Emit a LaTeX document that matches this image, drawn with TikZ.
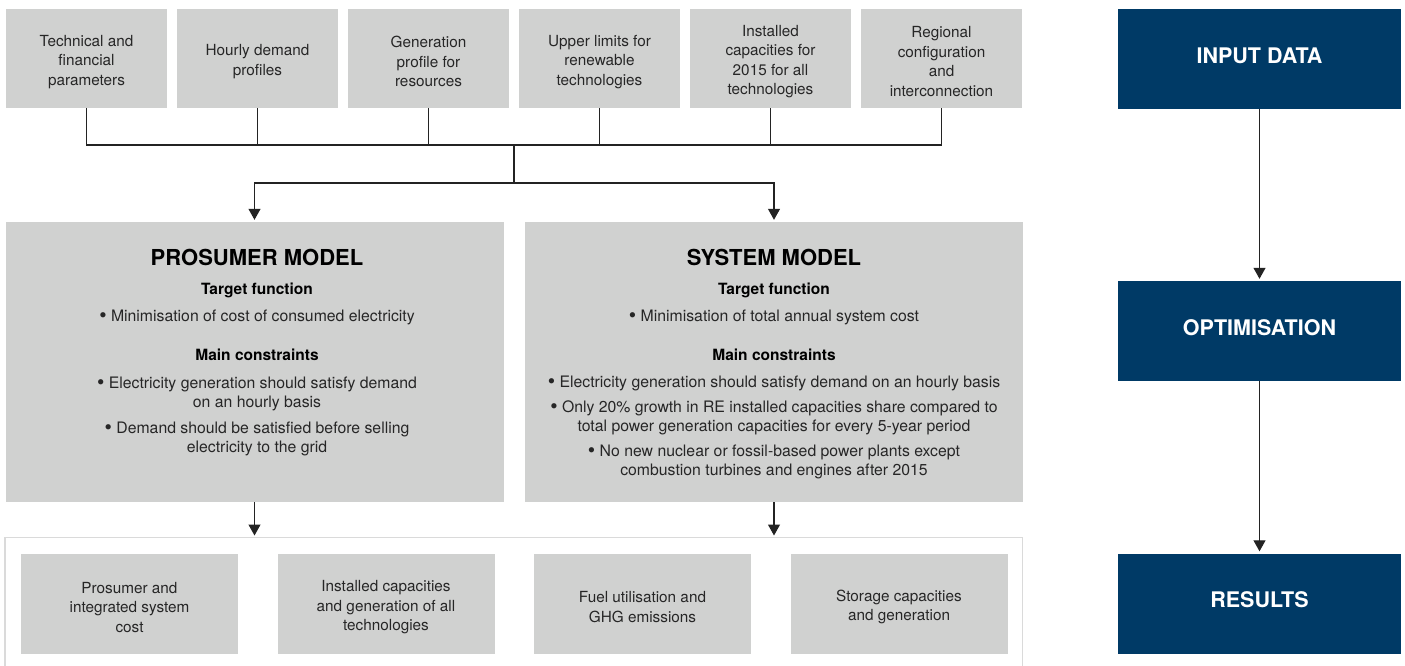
\documentclass[tikz,border=0pt]{standalone}
\usepackage{fontspec}
\setmainfont{TeX Gyre Heros}
\usetikzlibrary{arrows.meta}
\usetikzlibrary{positioning}

\definecolor{boxgrey}{RGB}{208,209,208}
\definecolor{navy}{RGB}{0,58,102}
\definecolor{txtgrey}{RGB}{38,38,38}
\definecolor{framegrey}{RGB}{218,218,218}
\definecolor{linegrey}{RGB}{35,35,35}

\newcommand{\bul}{\raisebox{-1pt}{\fontsize{21}{19}\selectfont\textbullet}}
\newcommand{\tp}{\rule{0pt}{17.5pt}}

\tikzset{
  inbox/.style={fill=boxgrey, minimum width=161, minimum height=99, inner sep=0,
    align=center, text=txtgrey, font=\fontsize{15.3}{19.5}\selectfont},
  outbox/.style={inbox, minimum width=217, minimum height=100},
  modelbox/.style={fill=boxgrey, minimum width=498, minimum height=280, inner sep=0},
  stagebox/.style={fill=navy, minimum width=283, minimum height=100, inner sep=0,
    text=white, text depth=7, font=\fontsize{21.5}{24}\bfseries\selectfont},
  mtitle/.style={anchor=base, text=black, font=\fontsize{22}{24}\bfseries\selectfont},
  mhead/.style={anchor=base, text=black, font=\fontsize{15.5}{19}\bfseries\selectfont},
  mline/.style={anchor=base, text=txtgrey, font=\fontsize{15.8}{19}\selectfont},
  wire/.style={draw=linegrey, line width=1.1pt},
  flow/.style={wire, -{Triangle[width=12pt,length=11pt]}, shorten >=2pt},
}

\begin{document}
\begin{tikzpicture}[x=1pt, y=-1pt]
      \useasboundingbox (0,0) rectangle (1405,666);

      % input data boxes
      \node[inbox] (tech) at (86.5, 58.5) {\tp Technical and\\financial\\parameters};
      \node[inbox] (demand) at (257.5, 58.5) {\tp Hourly demand\\profiles};
      \node[inbox] (genprof) at (428.5, 58.5) {\tp Generation\\profile for\\resources};
      \node[inbox] (uplim) at (599.5, 58.5) {\tp Upper limits for\\renewable\\technologies};
      \node[inbox] (instcap) at (770.5, 58.5) {\tp Installed\\capacities for\\2015 for all\\technologies};
      \node[inbox] (region) at (941.5, 58.5) {\tp Regional\\configuration\\and\\interconnection};

      % models
      \node[modelbox] (pm) at (254.5, 362) {};
      \node[modelbox] (sm) at (774, 362) {};

      \node[mtitle] (pmtitle) at (257, 265.5) {PROSUMER MODEL};
      \node[mhead] (pmtf) at (257, 294) {Target function};
      \node[mline] (pmt1) at (257, 321) {\bul\ Minimisation of cost of consumed electricity};
      \node[mhead] (pmmc) at (257, 360.5) {Main constraints};
      \node[mline] (pmc1) at (257, 388) {\bul\ Electricity generation should satisfy demand};
      \node[mline] (pmc1b) at (257, 407.5) {on an hourly basis};
      \node[mline] (pmc2) at (257, 433) {\bul\ Demand should be satisfied before selling};
      \node[mline] (pmc2b) at (257, 452.5) {electricity to the grid};

      \node[mtitle] (smtitle) at (774, 265.5) {SYSTEM MODEL};
      \node[mhead] (smtf) at (774, 294) {Target function};
      \node[mline] (smt1) at (774, 321) {\bul\ Minimisation of total annual system cost};
      \node[mhead] (smmc) at (774, 360.5) {Main constraints};
      \node[mline] (smc1) at (774, 387) {\bul\ Electricity generation should satisfy demand on an hourly basis};
      \node[mline] (smc2) at (774, 412) {\bul\ Only 20\% growth in RE installed capacities share compared to};
      \node[mline] (smc2b) at (774, 431) {total power generation capacities for every 5-year period};
      \node[mline] (smc3) at (774, 456) {\bul\ No new nuclear or fossil-based power plants except};
      \node[mline] (smc3b) at (774, 475) {combustion turbines and engines after 2015};

      % results frame and boxes
      \coordinate (frnw) at (5, 537.5);
      \coordinate (frne) at (1022.5, 537.5);
      \draw[framegrey, line width=1.8pt] (5, 670) -- (frnw) -- (frne) -- (1022.5, 670);
      \node[outbox] (cost) at (129.5, 604) {\tp Prosumer and\\integrated system\\cost};
      \node[outbox] (capgen) at (386, 604) {\tp Installed capacities\\and generation of all\\technologies};
      \node[outbox] (fuel) at (642.5, 604) {\tp Fuel utilisation and\\GHG emissions};
      \node[outbox] (storage) at (899, 604) {\tp Storage capacities\\and generation};

      % wiring
      \coordinate (bus) at (514, 145);
      \coordinate (split) at (514, 183);
      \draw[wire] (tech.south) |- (bus) -| (region.south);
      \foreach \n in {demand, genprof, uplim, instcap}
        \draw[wire] (\n.south) -- (\n.south |- bus);
      \draw[wire] (bus) -- (split);
      \draw[flow] (split) -| (pm.north);
      \draw[flow] (split) -| (sm.north);
      \draw[flow] (pm.south) -- (pm.south |- frnw);
      \draw[flow] (sm.south) -- (sm.south |- frne);

      % process stages
      \node[stagebox] (input) at (1259.5, 59) {INPUT DATA};
      \node[stagebox] (optim) at (1259.5, 331) {OPTIMISATION};
      \node[stagebox] (results) at (1259.5, 603.5) {RESULTS};
      \draw[flow] (input) -- (optim);
      \draw[flow] (optim) -- (results);
  \end{tikzpicture}
\end{document}
